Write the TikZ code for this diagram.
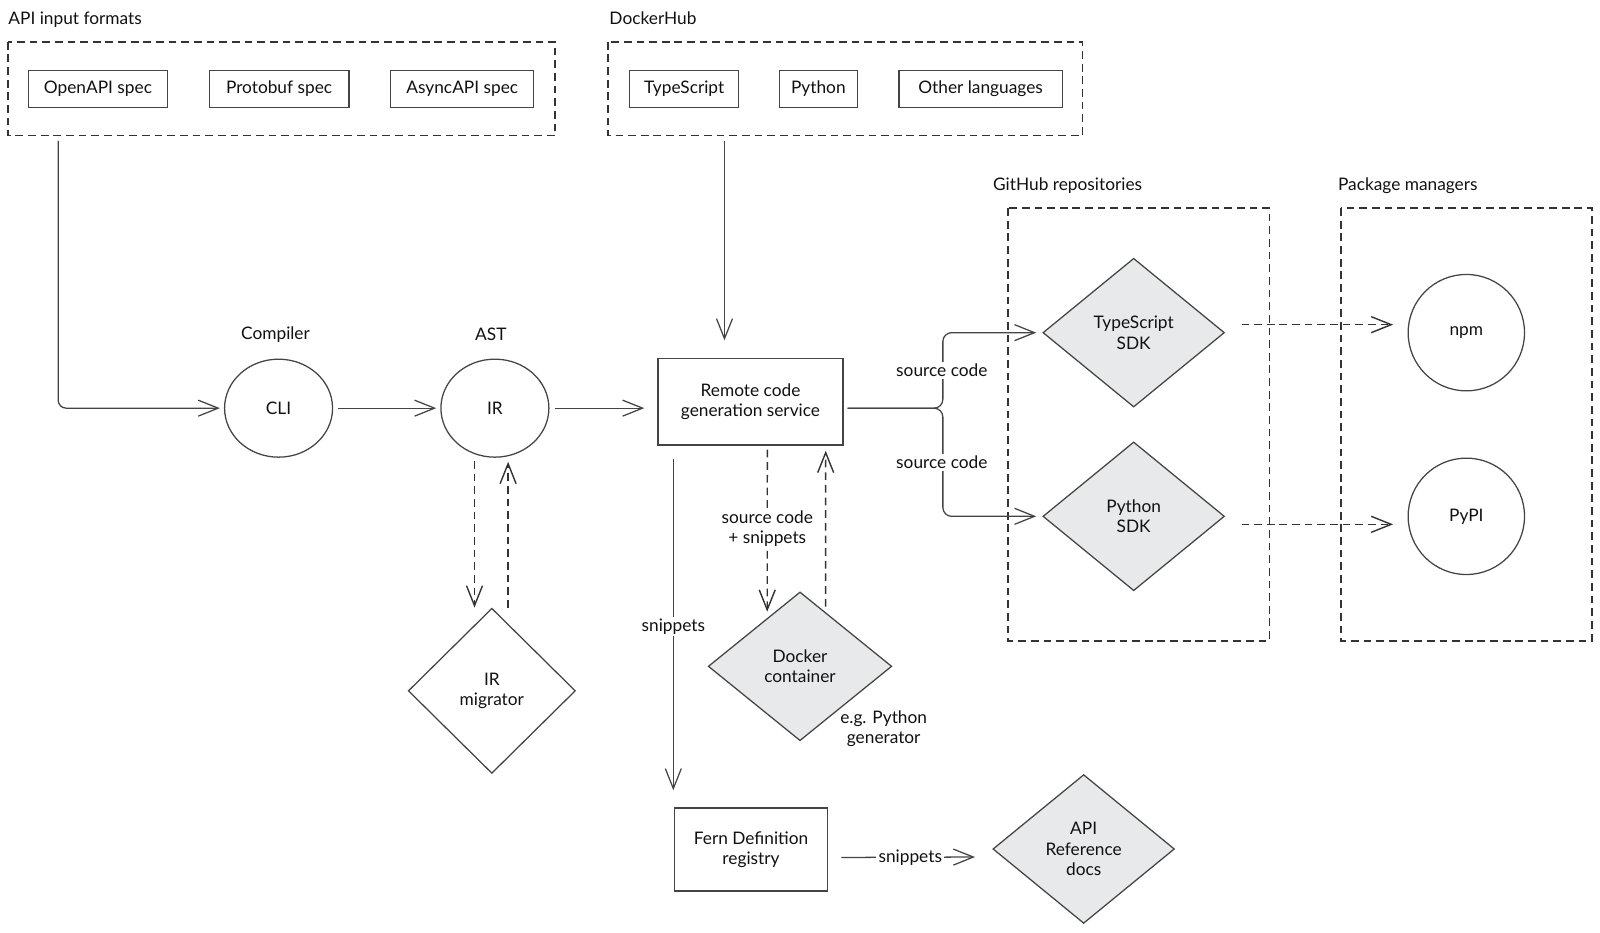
\documentclass[tikz,border=0pt]{standalone}
\usepackage{fontspec}
\setmainfont{Lato}
\usetikzlibrary{arrows.meta,shapes.geometric}

\definecolor{edgegray}{HTML}{444444}
\definecolor{dashgray}{HTML}{333333}
\definecolor{sdkgray}{HTML}{E8E9EB}
\definecolor{inkblack}{HTML}{111111}

\tikzset{
	>={Straight Barb[length=0.5cm,width=0.4cm]},
	wire/.style={draw=edgegray, line width=0.9pt},
	dashwire/.style={draw=dashgray, line width=1pt, dash pattern=on 5.5pt off 3.5pt},
	frame/.style={dashwire},
	plain/.style={draw=edgegray, line width=0.9pt, text=inkblack, align=center, inner sep=0pt},
	specbox/.style={plain, rectangle, minimum height=0.92cm},
	servicebox/.style={plain, rectangle},
	oval/.style={plain, ellipse, minimum width=2.7cm, minimum height=2.45cm},
	pkgcircle/.style={plain, circle, minimum size=2.91cm},
	gem/.style={plain, diamond},
	sdkgem/.style={gem, fill=sdkgray, minimum width=4.54cm, minimum height=3.72cm},
	heading/.style={text=inkblack, anchor=base west, inner sep=0pt},
	caption/.style={text=inkblack, align=center, inner sep=0pt},
	edgelabel/.style={text=inkblack, fill=white, align=center, inner sep=1.5pt},
}

\begin{document}
\begin{tikzpicture}[x=0.02551cm, y=-0.02551cm, font=\fontsize{12.3}{14.5}\selectfont]
		%%%%% START %%%%%
		\useasboundingbox (0,0) rectangle (1568,914);
		
		% API input formats
		\node[heading] (apiTitle) at (8,24) {API input formats};
		\draw[frame] (8,41) rectangle (544,133);
		\node[specbox, minimum width=3.47cm] (openapi) at (96,87) {OpenAPI spec};
		\node[specbox, minimum width=3.49cm] (protobuf) at (273.5,87) {Protobuf spec};
		\node[specbox, minimum width=3.57cm] (asyncapi) at (453,87) {AsyncAPI spec};
		\coordinate (apiOut) at (57,138);
		
		% DockerHub
		\node[heading] (dockerTitle) at (597,24) {DockerHub};
		\draw[frame] (596,41) rectangle (1061,133);
		\node[specbox, minimum width=2.73cm] (tsImage) at (670.5,87) {TypeScript};
		\node[specbox, minimum width=1.94cm] (pyImage) at (802,87) {Python};
		\node[specbox, minimum width=4.08cm] (otherImage) at (961,87) {Other languages};
		\coordinate (dockerOut) at (710,138);
		
		% compiler and AST
		\node[caption] (compilerTitle) at (270,328) {Compiler};
		\node[oval] (cli) at (273,400) {CLI};
		\node[caption] (astTitle) at (481,328) {AST};
		\node[oval] (ir) at (485,400) {IR};
		\node[gem, minimum width=4.18cm, minimum height=4.13cm] (migrator) at (482,677) {IR\\migrator};
		
		% generation
		\node[servicebox, minimum width=4.62cm, minimum height=2.17cm] (remote) at (735.5,393.5) {Remote code\\generation service};
		\node[sdkgem, minimum width=4.59cm] (docker) at (784,653) {Docker\\container};
		\node[caption] (dockerNote) at (866,714) {e.g. Python\\generator};
		\node[servicebox, minimum width=3.83cm, minimum height=2.07cm] (fern) at (736,832.5) {Fern Definition\\registry};
		\node[sdkgem] (apidocs) at (1062,832) {API\\Reference\\docs};
		
		% GitHub repositories
		\node[heading] (githubTitle) at (973,187) {GitHub repositories};
		\draw[frame] (988,204) rectangle (1244,628);
		\node[sdkgem] (tsSdk) at (1111,326) {TypeScript\\SDK};
		\node[sdkgem] (pySdk) at (1111,506) {Python\\SDK};
		
		% Package managers
		\node[heading] (pkgTitle) at (1311,187) {Package managers};
		\draw[frame] (1314,204) rectangle (1560,628);
		\node[pkgcircle] (npm) at (1437,326) {npm};
		\node[pkgcircle] (pypi) at (1437,506) {PyPI};
		
		% connectors
		\draw[wire, ->, rounded corners=0.2cm, shorten >=0.1cm] (apiOut) |- (cli.west);
		\draw[wire, ->, shorten <=0.13cm, shorten >=0.1cm] (cli.east) -- (ir.west);
		\draw[wire, ->, shorten <=0.13cm, shorten >=0.33cm] (ir.east) -- (remote.west |- ir.east);
		\draw[wire, ->, shorten >=0.43cm] (dockerOut) -- (dockerOut |- remote.north);
		
		\coordinate (fork) at (924,400);
		\draw[wire, ->, rounded corners=0.22cm, shorten <=0.1cm, shorten >=0.15cm] (fork -| remote.east) -- (fork) |- (tsSdk.west);
		\draw[wire, ->, rounded corners=0.22cm, shorten <=0.1cm, shorten >=0.15cm] (fork -| remote.east) -- (fork) |- (pySdk.west);
		\node[edgelabel] (srcTop) at (923,363) {source code};
		\node[edgelabel] (srcBottom) at (923,453) {source code};
		
		\draw[dashwire, ->, shorten <=0.41cm, shorten >=0.36cm] ([yshift=0.2cm]tsSdk.east) -- ([yshift=0.2cm]npm.west);
		\draw[dashwire, ->, shorten <=0.41cm, shorten >=0.36cm] ([yshift=-0.2cm]pySdk.east) -- ([yshift=-0.2cm]pypi.west);
		
		\draw[dashwire, ->, shorten <=0.08cm] ([xshift=-0.51cm]ir.south) -- ([xshift=-0.51cm]ir.south |- migrator.north);
		\draw[dashwire, ->, shorten >=0.1cm] ([xshift=0.33cm]ir.south |- migrator.north) -- ([xshift=0.33cm]ir.south);
		
		\draw[dashwire, ->, shorten <=0.1cm] ([xshift=0.42cm]remote.south) -- ([xshift=-0.82cm,yshift=-0.51cm]docker.north) node[edgelabel, midway] {source code\\+ snippets};
		\draw[dashwire, ->, shorten >=0.13cm] ([xshift=0.64cm,yshift=-0.38cm]docker.north) -- ([xshift=1.88cm]remote.south);
		
		\draw[wire, ->, shorten <=0.33cm, shorten >=0.43cm] ([xshift=-1.93cm]remote.south) -- ([xshift=-1.93cm]remote.south |- fern.north) node[edgelabel, midway] {snippets};
		\draw[wire, ->, shorten <=0.33cm, shorten >=0.43cm] ([yshift=-0.2cm]fern.east) -- ([yshift=-0.2cm]apidocs.west) node[edgelabel, midway] {snippets};
		
		%%%%% END %%%%%
	\end{tikzpicture}
\end{document}
